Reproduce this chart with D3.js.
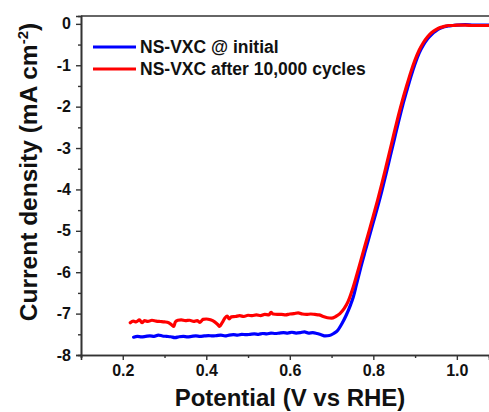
<!DOCTYPE html>
<html>
<head>
<meta charset="utf-8">
<script src="https://cdn.jsdelivr.net/npm/d3@7/dist/d3.min.js"></script>
<style>
  html, body { margin: 0; padding: 0; background: #fff; }
  svg { display: block; font-family: "Liberation Sans", Arial, sans-serif; font-weight: bold; }
</style>
</head>
<body>
<svg id="chart" width="489" height="412"></svg>
<script>
// LSV polarization curves (ORR), potential in V vs RHE, current density in mA cm^-2
const seriesNames = ["NS-VXC @ initial", "NS-VXC after 10,000 cycles"];
const seriesColors = ["#0000ff", "#ff0000"];

const initialV = [0.226,0.235,0.245,0.255,0.265,0.275,0.285,0.295,0.305,0.315,0.325,0.335,0.345,0.355,0.365,0.375,0.385,0.395,0.405,0.415,0.425,0.435,0.445,0.455,0.465,0.475,0.485,0.495,0.505,0.515,0.525,0.535,0.545,0.555,0.565,0.575,0.585,0.595,0.605,0.615,0.625,0.635,0.645,0.655,0.665,0.675,0.685,0.695,0.705,0.715,0.725,0.735,0.745,0.752,0.760,0.770,0.780,0.790,0.800,0.810,0.820,0.830,0.840,0.850,0.860,0.870,0.880,0.890,0.900,0.910,0.920,0.930,0.940,0.950,0.960,0.970,0.980,0.990,1.000,1.020,1.040,1.060,1.080];
const initialJ = [-7.57,-7.55,-7.56,-7.55,-7.54,-7.55,-7.52,-7.54,-7.55,-7.56,-7.58,-7.56,-7.55,-7.56,-7.55,-7.54,-7.55,-7.54,-7.53,-7.54,-7.53,-7.52,-7.54,-7.52,-7.51,-7.52,-7.50,-7.51,-7.50,-7.49,-7.50,-7.48,-7.49,-7.47,-7.48,-7.47,-7.46,-7.47,-7.45,-7.47,-7.46,-7.44,-7.47,-7.46,-7.48,-7.51,-7.54,-7.53,-7.48,-7.40,-7.24,-7.04,-6.80,-6.60,-6.28,-5.88,-5.51,-5.15,-4.79,-4.43,-4.05,-3.64,-3.22,-2.80,-2.38,-1.98,-1.62,-1.27,-0.96,-0.70,-0.51,-0.36,-0.25,-0.17,-0.11,-0.07,-0.05,-0.04,-0.03,-0.02,-0.03,-0.03,-0.03];

const cycledV = [0.218,0.225,0.232,0.240,0.246,0.252,0.260,0.270,0.280,0.290,0.300,0.310,0.318,0.322,0.326,0.332,0.340,0.350,0.360,0.370,0.378,0.385,0.392,0.400,0.410,0.420,0.428,0.432,0.438,0.445,0.450,0.455,0.460,0.470,0.480,0.490,0.500,0.510,0.520,0.530,0.540,0.550,0.555,0.560,0.570,0.580,0.590,0.600,0.610,0.620,0.630,0.640,0.650,0.660,0.670,0.680,0.690,0.700,0.710,0.720,0.730,0.740,0.750,0.760,0.770,0.780,0.790,0.800,0.810,0.820,0.830,0.840,0.850,0.860,0.870,0.880,0.890,0.900,0.910,0.920,0.930,0.940,0.950,0.960,0.970,0.980,0.990,1.000,1.020,1.040,1.060,1.080];
const cycledJ = [-7.22,-7.18,-7.20,-7.15,-7.22,-7.17,-7.19,-7.16,-7.18,-7.19,-7.20,-7.22,-7.28,-7.31,-7.20,-7.16,-7.15,-7.17,-7.16,-7.19,-7.17,-7.21,-7.14,-7.13,-7.15,-7.20,-7.27,-7.31,-7.22,-7.10,-7.06,-7.13,-7.08,-7.07,-7.05,-7.07,-7.04,-7.05,-7.03,-7.05,-7.02,-7.03,-6.97,-7.01,-7.02,-7.02,-7.03,-7.01,-7.00,-6.98,-7.01,-7.02,-7.01,-7.02,-7.03,-7.07,-7.10,-7.11,-7.07,-7.00,-6.88,-6.70,-6.42,-6.08,-5.72,-5.36,-5.00,-4.64,-4.27,-3.88,-3.47,-3.05,-2.63,-2.22,-1.84,-1.49,-1.16,-0.87,-0.63,-0.45,-0.31,-0.21,-0.14,-0.09,-0.06,-0.04,-0.04,-0.03,-0.03,-0.04,-0.04,-0.04];

const xTicks = [0.2, 0.4, 0.6, 0.8, 1.0];
const xMinorTicks = [0.1, 0.3, 0.5, 0.7, 0.9];
const yTicks = [0, -1, -2, -3, -4, -5, -6, -7, -8];
const yMinorTicks = [-0.5, -1.5, -2.5, -3.5, -4.5, -5.5, -6.5, -7.5];

const svg = d3.select("#chart");
const plotLeft = 81, plotTop = 16, plotRight = 489, plotBottom = 355;

const x = d3.scaleLinear().domain([0.1, 1.077]).range([plotLeft, plotRight]);
const y = d3.scaleLinear().domain([-8, 0.19]).range([plotBottom, plotTop]);

const axisColor = "#333";

// curves
const line = d3.line().x(d => x(d[0])).y(d => y(d[1])).curve(d3.curveMonotoneX);
const series = [
  d3.zip(initialV, initialJ),
  d3.zip(cycledV, cycledJ)
];
series.forEach((pts, i) => {
  svg.append("path")
    .datum(pts)
    .attr("d", line)
    .attr("fill", "none")
    .attr("stroke", seriesColors[i])
    .attr("stroke-width", 3.2)
    .attr("stroke-linejoin", "round")
    .attr("stroke-linecap", "round");
});

// x axis (bottom)
const gx = svg.append("g").attr("transform", `translate(0,${plotBottom})`)
  .call(d3.axisBottom(x).tickValues(xTicks).tickFormat(d3.format(".1f")).tickSize(5).tickPadding(5));
const gxMinor = svg.append("g").attr("transform", `translate(0,${plotBottom})`)
  .call(d3.axisBottom(x).tickValues(xMinorTicks).tickFormat("").tickSize(3));

// y axis (left)
const gy = svg.append("g").attr("transform", `translate(${plotLeft},0)`)
  .call(d3.axisLeft(y).tickValues(yTicks).tickFormat(d3.format("d")).tickSize(5).tickPadding(5));
const gyMinor = svg.append("g").attr("transform", `translate(${plotLeft},0)`)
  .call(d3.axisLeft(y).tickValues(yMinorTicks).tickFormat("").tickSize(3));

[gx, gxMinor, gy, gyMinor].forEach(g => {
  g.select(".domain").attr("stroke", axisColor).attr("stroke-width", 1.6);
  g.selectAll(".tick line").attr("stroke", axisColor).attr("stroke-width", 1.4);
  g.selectAll(".tick text")
    .attr("fill", "#111")
    .style("font-family", '"Liberation Sans", Arial, sans-serif')
    .style("font-weight", "bold")
    .style("font-size", "16px");
});
// plain hyphen minus signs on the current axis
gy.selectAll(".tick text").text(d => String(d));

// top frame line
svg.append("line")
  .attr("x1", plotLeft).attr("x2", plotRight)
  .attr("y1", plotTop).attr("y2", plotTop)
  .attr("stroke", axisColor).attr("stroke-width", 1.6);

// legend
const legendX = 93, legendY = [47, 69];
seriesNames.forEach((name, i) => {
  svg.append("line")
    .attr("x1", legendX).attr("x2", legendX + 43)
    .attr("y1", legendY[i]).attr("y2", legendY[i])
    .attr("stroke", seriesColors[i]).attr("stroke-width", 3.2);
  svg.append("text")
    .attr("x", legendX + 47).attr("y", legendY[i] + 6)
    .attr("fill", "#111")
    .style("font-size", "17.5px")
    .text(name);
});

// axis titles
svg.append("text")
  .attr("x", (plotLeft + plotRight) / 2 + 5).attr("y", 406)
  .attr("text-anchor", "middle")
  .attr("fill", "#111")
  .style("font-size", "24px")
  .text("Potential (V vs RHE)");

const yTitle = svg.append("text")
  .attr("transform", `translate(37,172) rotate(-90)`)
  .attr("text-anchor", "middle")
  .attr("fill", "#111")
  .style("font-size", "24.5px");
yTitle.append("tspan").text("Current density (mA cm");
yTitle.append("tspan").attr("dy", -9).style("font-size", "15px").text("-2");
yTitle.append("tspan").attr("dy", 9).text(")");
</script>
</body>
</html>
